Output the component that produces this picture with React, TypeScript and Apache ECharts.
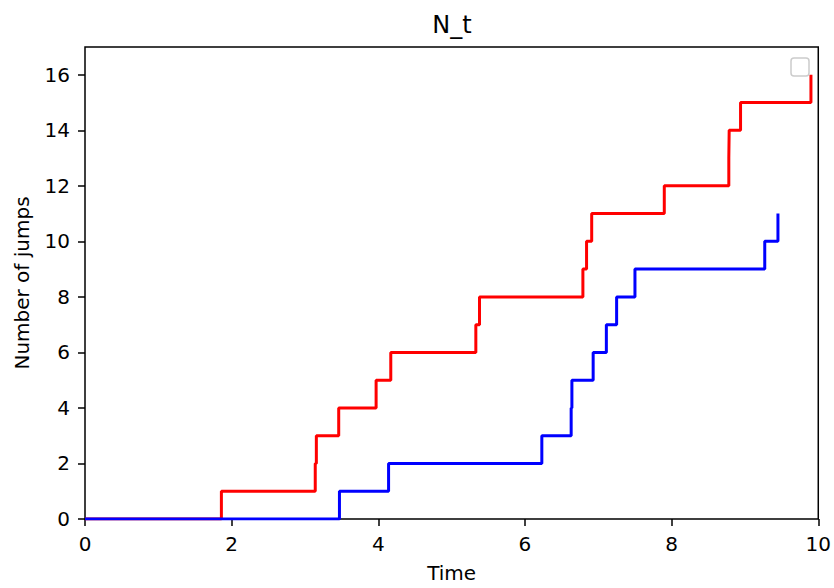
import React, { useEffect, useRef } from "react";
import * as echarts from "echarts";

const titleText = "N_t";
const xAxisName = "Time";
const yAxisName = "Number of jumps";

const redTimes = [0, 1.86, 3.14, 3.155, 3.46, 3.97, 4.17, 5.33, 5.38, 6.79, 6.84, 6.91, 7.9, 8.78, 8.785, 8.94, 9.9];
const redCounts = [0, 1, 2, 3, 4, 5, 6, 7, 8, 9, 10, 11, 12, 13, 14, 15, 16];
const blueTimes = [0, 3.47, 4.14, 6.23, 6.63, 6.64, 6.93, 7.11, 7.25, 7.5, 9.27, 9.45];
const blueCounts = [0, 1, 2, 3, 4, 5, 6, 7, 8, 9, 10, 11];
const yTicks = [0, 2, 4, 6, 8, 10, 12, 14, 16];

const FONT = "DejaVu Sans";

export default function App() {
  const ref = useRef<HTMLDivElement>(null);
  useEffect(() => {
    document.body.style.margin = "0";
    if (!ref.current) return;
    const chart = echarts.init(ref.current, undefined, { renderer: "svg" });
    const zip = (xs: number[], ys: number[]) => xs.map((x, i) => [x, ys[i]]);
    chart.setOption({
      animation: false,
      textStyle: { fontFamily: FONT },
      grid: {
        left: 85,
        right: 15,
        top: 47,
        bottom: 63,
        show: true,
        borderColor: "#000",
        borderWidth: 1.5,
        backgroundColor: "transparent",
      },
      graphic: [
        {
          type: "text",
          x: 452,
          y: 25,
          style: {
            text: titleText,
            fontFamily: FONT,
            fontSize: 24,
            fill: "#000",
            textAlign: "center",
            textVerticalAlign: "middle",
          },
        },
        {
          type: "rect",
          shape: { x: 791, y: 58, width: 18, height: 18, r: 3 },
          style: { fill: "rgba(255,255,255,0.8)", stroke: "#cccccc", lineWidth: 1.5 },
          z: 100,
        },
      ],
      xAxis: {
        type: "value",
        min: 0,
        max: 10,
        interval: 2,
        name: xAxisName,
        nameLocation: "middle",
        nameGap: 44,
        nameTextStyle: { fontFamily: FONT, fontSize: 20, color: "#000" },
        axisLine: { show: false },
        axisTick: { show: true, length: 7, lineStyle: { color: "#000", width: 1.5 } },
        axisLabel: { margin: 15, fontFamily: FONT, fontSize: 20, color: "#000" },
        splitLine: { show: false },
      },
      yAxis: {
        type: "value",
        min: 0,
        max: 17,
        name: yAxisName,
        nameLocation: "middle",
        nameGap: 53,
        nameTextStyle: { fontFamily: FONT, fontSize: 20, color: "#000" },
        axisLine: { show: false },
        axisTick: {
          show: true,
          length: 7,
          customValues: yTicks,
          lineStyle: { color: "#000", width: 1.5 },
        },
        axisLabel: {
          margin: 15,
          customValues: yTicks,
          fontFamily: FONT,
          fontSize: 20,
          color: "#000",
        },
        splitLine: { show: false },
      },
      series: [
        {
          name: "red",
          type: "line",
          step: "end",
          showSymbol: false,
          data: zip(redTimes, redCounts),
          lineStyle: { color: "#ff0000", width: 3 },
          itemStyle: { color: "#ff0000" },
        },
        {
          name: "blue",
          type: "line",
          step: "end",
          showSymbol: false,
          data: zip(blueTimes, blueCounts),
          lineStyle: { color: "#0000ff", width: 3 },
          itemStyle: { color: "#0000ff" },
        },
      ],
    });
    return () => chart.dispose();
  }, []);
  return <div ref={ref} style={{ width: 834, height: 588 }} />;
}
